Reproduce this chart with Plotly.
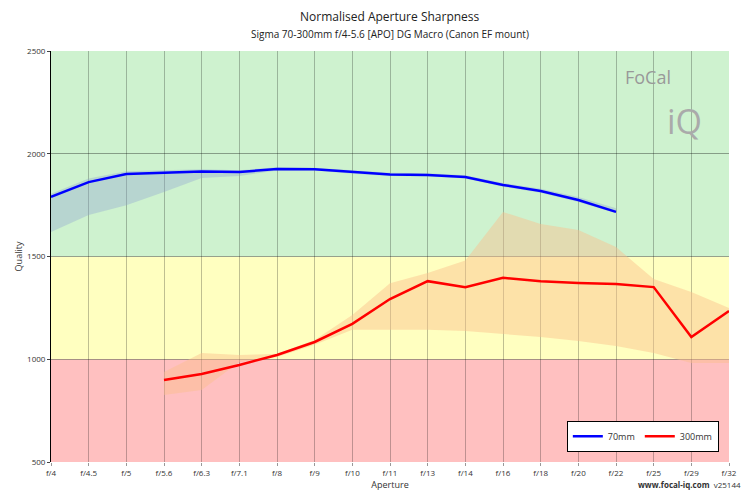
import plotly.graph_objects as go

apertures = ["f/4","f/4.5","f/5","f/5.6","f/6.3","f/7.1","f/8","f/9","f/10","f/11","f/13","f/14","f/16","f/18","f/20","f/22","f/25","f/29","f/32"]
ap70 = apertures[:16]
q70 = [1790,1862,1901,1908,1914,1911,1926,1924,1911,1899,1897,1887,1848,1819,1775,1717]
q70_hi = [1805,1880,1915,1918,1924,1920,1934,1932,1920,1908,1905,1895,1858,1830,1790,1735]
q70_lo = [1619,1702,1750,1814,1882,1892,1918,1918,1903,1892,1890,1880,1840,1810,1765,1710]
ap300 = apertures[3:]
q300 = [899,928,972,1021,1084,1172,1293,1380,1351,1396,1380,1371,1366,1351,1108,1235]
q300_hi = [938,1030,1021,1026,1094,1215,1370,1420,1480,1717,1658,1629,1546,1390,1327,1250]
q300_lo = [826,850,987,1011,1070,1143,1143,1143,1138,1124,1108,1089,1065,1031,982,982]

fig = go.Figure()
def band(x, lo, hi, color):
    fig.add_trace(go.Scatter(x=x, y=lo, mode="lines", line=dict(width=0), showlegend=False, hoverinfo="skip"))
    fig.add_trace(go.Scatter(x=x, y=hi, mode="lines", line=dict(width=0), fill="tonexty", fillcolor=color, showlegend=False, hoverinfo="skip"))
band(ap70, q70_lo, q70_hi, "rgba(140,160,210,0.35)")
band(ap300, q300_lo, q300_hi, "rgba(250,190,140,0.45)")
fig.add_trace(go.Scatter(x=ap70, y=q70, mode="lines", name="70mm", line=dict(color="#0000ff", width=2.5)))
fig.add_trace(go.Scatter(x=ap300, y=q300, mode="lines", name="300mm", line=dict(color="#ff0000", width=2.5)))

for y0, y1, c in [(500,1000,"#ffc0c0"),(1000,1500,"#ffffc0"),(1500,2500,"#cef2cf")]:
    fig.add_shape(type="rect", xref="paper", yref="y", x0=0, x1=1, y0=y0, y1=y1, fillcolor=c, line_width=0, layer="below")

fig.update_layout(
    width=734, height=484, margin=dict(l=43, r=13, t=43, b=30, autoexpand=False),
    paper_bgcolor="white", plot_bgcolor="white",
    font=dict(family="Open Sans", size=8, color="#333"),
    xaxis=dict(title=dict(text="Aperture", standoff=2, font=dict(size=9)), categoryorder="array", categoryarray=apertures, automargin=False,
               showgrid=True, gridcolor="rgba(0,0,0,0.25)", range=[0, 18], showline=False, ticks="outside", ticklen=3, tickcolor="#999"),
    yaxis=dict(title=dict(text="Quality", standoff=2, font=dict(size=9)), range=[500, 2500], tickvals=[500,1000,1500,2000,2500], automargin=False,
               showgrid=True, gridcolor="rgba(0,0,0,0.35)", showline=True, linecolor="black", ticks="outside", ticklen=3, zeroline=False),
    legend=dict(orientation="h", traceorder="normal", x=0.985, y=0.025, xanchor="right", yanchor="bottom", bgcolor="white",
                bordercolor="black", borderwidth=1, font=dict(size=9)),
    showlegend=True,
)
fig.add_annotation(text="Normalised Aperture Sharpness", x=0.5, y=1.085, xref="paper", yref="paper", showarrow=False,
                   xanchor="center", yanchor="middle", font=dict(size=12, color="#222"))
fig.add_annotation(text="Sigma 70-300mm f/4-5.6 [APO] DG Macro (Canon EF mount)", x=0.5, y=1.042, xref="paper", yref="paper",
                   showarrow=False, xanchor="center", yanchor="middle", font=dict(size=10, color="#222"))
fig.add_annotation(text="FoCal", x=0.88, y=0.97, xref="paper", yref="paper", showarrow=False,
                   font=dict(size=18, color="#999", family="Open Sans"), xanchor="center")
fig.add_annotation(text="iQ", x=0.935, y=0.89, xref="paper", yref="paper", showarrow=False,
                   font=dict(size=34, color="#aaa", family="Open Sans"), xanchor="center")
fig.add_annotation(text="<b>www.focal-iq.com</b>  v25144", x=1.02, y=-0.073, xref="paper", yref="paper", showarrow=False,
                   xanchor="right", yanchor="bottom", font=dict(size=8, color="#333"))
fig.write_html("out.html")
